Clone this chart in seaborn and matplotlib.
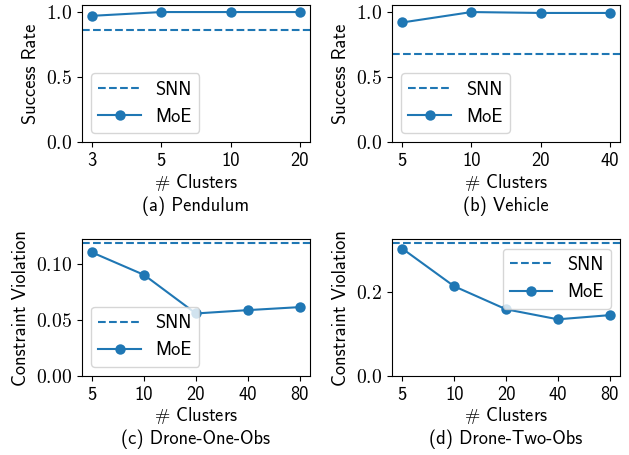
import matplotlib
matplotlib.use("Agg")
import matplotlib.pyplot as plt
import seaborn as sns
import pandas as pd
from matplotlib.ticker import FuncFormatter

plt.rcParams['mathtext.fontset'] = 'cm'
plt.rcParams['font.family'] = ['cmss10', 'DejaVu Sans']
plt.rcParams['axes.unicode_minus'] = False

# ---- data ----
pend_clusters = [3, 5, 10, 20]
pend_moe = [0.971, 1.0, 1.0, 1.0]
pend_snn = 0.866

veh_clusters = [5, 10, 20, 40]
veh_moe = [0.92, 1.0, 0.993, 0.993]
veh_snn = 0.679

d1_clusters = [5, 10, 20, 40, 80]
d1_moe = [0.1106, 0.0905, 0.0559, 0.0589, 0.0616]
d1_snn = 0.1192

d2_clusters = [5, 10, 20, 40, 80]
d2_moe = [0.304, 0.214, 0.159, 0.135, 0.145]
d2_snn = 0.317

panels = [
    (pend_clusters, pend_moe, pend_snn, "Success Rate", "(a) Pendulum", [0, 0.5, 1.0], "%.1f", (0, 1.054), "lower left"),
    (veh_clusters, veh_moe, veh_snn, "Success Rate", "(b) Vehicle", [0, 0.5, 1.0], "%.1f", (0, 1.054), "lower left"),
    (d1_clusters, d1_moe, d1_snn, "Constraint Violation", "(c) Drone-One-Obs", [0, 0.05, 0.10], "%.2f", None, "lower left"),
    (d2_clusters, d2_moe, d2_snn, "Constraint Violation", "(d) Drone-Two-Obs", [0, 0.2], "%.1f", None, "upper right"),
]

fig = plt.figure(figsize=(6.29, 4.55), dpi=100)
boxes = [
    [0.130, 0.687, 0.363, 0.302],
    [0.623, 0.687, 0.363, 0.302],
    [0.130, 0.174, 0.363, 0.300],
    [0.623, 0.174, 0.363, 0.300],
]
color = '#1f77b4'
FS = 13.3

for box, (cl, moe, snn, ylab, cap, yticks, fmt, ylim, loc) in zip(boxes, panels):
    ax = fig.add_axes(box)
    df = pd.DataFrame({"clusters": [str(c) for c in cl], "value": moe})
    ax.axhline(snn, color=color, linestyle='--', lw=1.5, label='SNN')
    sns.lineplot(data=df, x="clusters", y="value", ax=ax, color=color,
                 marker='o', markersize=7.5, markeredgewidth=0, lw=1.5,
                 label='MoE', sort=False)
    if ylim is not None:
        ax.set_ylim(*ylim)
    else:
        ax.set_ylim(bottom=0)
    ax.set_yticks(yticks)
    ax.yaxis.set_major_formatter(FuncFormatter(lambda v, p, f=fmt: "$" + (f % v) + "$"))
    ax.set_xticks(range(len(cl)))
    ax.set_xticklabels([str(c) for c in cl])
    ax.tick_params(axis='x', labelsize=FS)
    ax.tick_params(axis='y', labelsize=14.2)
    ax.set_ylabel(ylab, fontsize=FS)
    ax.set_xlabel(r"$\#$ Clusters" + "\n" + cap, fontsize=FS, linespacing=1.25, labelpad=1)
    ax.legend(loc=loc, fontsize=FS, handlelength=2.3)

fig.savefig("out.png", dpi=100)
